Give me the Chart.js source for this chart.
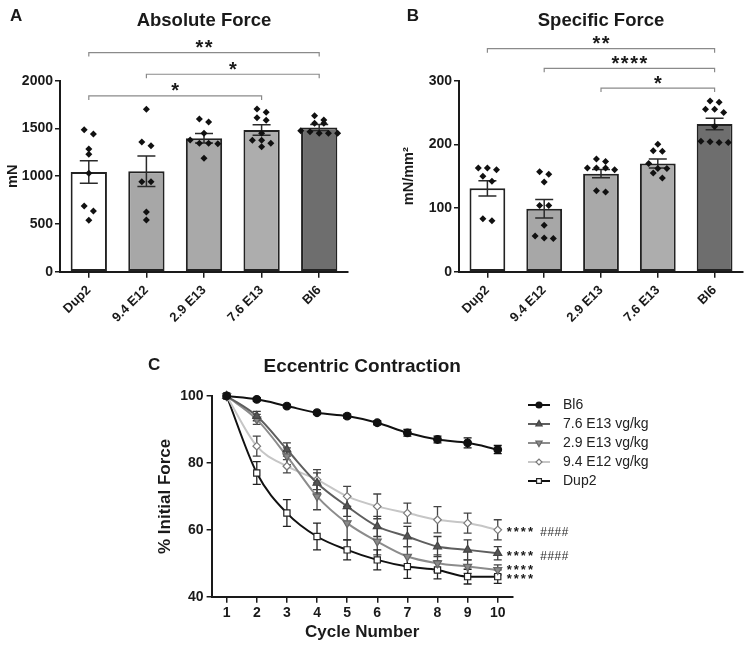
<!DOCTYPE html>
<html><head><meta charset="utf-8">
<script src="https://cdn.jsdelivr.net/npm/chart.js@4.4.1/dist/chart.umd.min.js"></script>
<style>
html,body{margin:0;padding:0;background:#fff;}
#wrap{position:relative;width:747px;height:645px;overflow:hidden;background:#fff;}
canvas{position:absolute;}
</style></head><body>
<div id="wrap">
<canvas id="cA" width="375" height="335" style="left:0;top:0"></canvas>
<canvas id="cB" width="372" height="335" style="left:375px;top:0"></canvas>
<canvas id="cC" width="607" height="315" style="left:140px;top:330px"></canvas>
</div>
<script>
// ---------- DATA ----------
const groups = ['Dup2', '9.4 E12', '2.9 E13', '7.6 E13', 'Bl6'];

const absMean = [1045, 1052, 1397, 1485, 1510];
const absSem = [118, 160, 50, 55, 32];
const absDots = [
  [1442, 1487, 1285, 1229, 1030, 688, 636, 538],
  [1700, 1319, 1358, 942, 942, 625, 541],
  [1599, 1568, 1449, 1379, 1344, 1344, 1340, 1187],
  [1704, 1669, 1613, 1585, 1449, 1309, 1376, 1344, 1376],
  [1634, 1588, 1554, 1554, 1449, 1476, 1449, 1466, 1449]
];
const absTicks = [0, 500, 1000, 1500, 2000];
const absSigFrom = [0, 1, 0];
const absSigTo = [3, 4, 4];
const absSigText = ['*', '*', '**'];

const specMean = [131, 99, 154, 170, 232];
const specSem = [12, 14.5, 6.5, 7, 9];
const specDots = [
  [163, 160, 163, 150, 142, 80, 83],
  [157, 153, 141, 104, 104, 73, 52, 56, 53],
  [177, 173, 163, 163, 163, 160, 125, 127],
  [200, 190, 189, 170, 162, 162, 147, 155],
  [268, 266, 255, 255, 250, 228, 203, 205, 203, 204]
];
const specTicks = [0, 100, 200, 300];
const specSigFrom = [2, 1, 0];
const specSigTo = [4, 4, 4];
const specSigText = ['*', '****', '**'];

const cycles = [1, 2, 3, 4, 5, 6, 7, 8, 9, 10];
const eccTicks = [40, 60, 80, 100];
const seriesNames = ['Bl6', '7.6 E13 vg/kg', '2.9 E13 vg/kg', '9.4 E12 vg/kg', 'Dup2'];
const bl6Vals   = [100, 99, 97, 95, 94, 92, 89, 87, 86, 84];
const bl6Err    = [0, 0.5, 0.5, 0.5, 0.6, 0.6, 1, 1, 1.5, 1.2];
const e76Vals   = [100, 94, 84, 74, 67, 61, 58, 55, 54, 53];
const e76Err    = [0, 1.4, 2, 3, 3, 3, 3, 3, 3, 2];
const e29Vals   = [100, 93, 82, 70, 62, 56.5, 52, 50, 49, 48];
const e29Err    = [0, 1.5, 2.5, 4, 5, 4, 3, 2.5, 2, 1.5];
const e94Vals   = [100, 85, 79, 75, 70, 67, 65, 63, 62, 60];
const e94Err    = [0, 3, 2, 3, 3, 3.7, 3, 3.9, 3, 3];
const dup2Vals  = [100, 77, 65, 58, 54, 51, 49, 48, 46, 46];
const dup2Err   = [0, 3.4, 4, 4, 3, 3, 3.5, 2.7, 2.2, 2];
const endStars  = ['', '****', '****', '****', '****'];
const endHash   = ['', '####', '', '####', ''];

// ---------- STYLE ----------
const FONT = '"Liberation Sans", Arial, Helvetica, sans-serif';
const INK = '#1a1a1a';
const barFill = ['#ffffff', '#a7a7a7', '#a9a9a9', '#adadad', '#6e6e6e'];

function spaced(ctx, text, x, y, spacing, align) {
  const chars = [...text];
  const w = chars.map(c => ctx.measureText(c).width);
  const total = w.reduce((a, b) => a + b, 0) + spacing * (chars.length - 1);
  let cx = align === 'center' ? x - total / 2 : x;
  ctx.textAlign = 'left';
  chars.forEach((c, i) => { ctx.fillText(c, cx, y); cx += w[i] + spacing; });
  return total;
}

// beeswarm layout of dots (computed from the values)
function swarm(values, idx, thr, step) {
  const sorted = values.slice().sort((a, b) => b - a);
  const rows = [];
  sorted.forEach(v => {
    const r = rows[rows.length - 1];
    if (r && r[0] - v <= thr) r.push(v); else rows.push([v]);
  });
  const pts = [];
  rows.forEach(r => r.forEach((v, k) => pts.push({ x: idx + (k - (r.length - 1) / 2) * step, y: v })));
  return pts;
}

function barChart(id, cfg) {
  const dots = [];
  cfg.dots.forEach((vals, i) => dots.push(...swarm(vals, i, cfg.thr, 0.16)));
  const deco = {
    id: 'deco' + id,
    afterDatasetDraw(chart, args) {
      if (args.meta.type !== 'bar') return;
      const ctx = chart.ctx, ys = chart.scales.y;
      ctx.save();
      ctx.strokeStyle = '#2a2a2a'; ctx.lineWidth = 1.5;
      args.meta.data.forEach((bar, i) => {
        const m = cfg.mean[i], s = cfg.sem[i];
        const yt = ys.getPixelForValue(m + s), yb = ys.getPixelForValue(m - s);
        ctx.beginPath();
        ctx.moveTo(bar.x, yt); ctx.lineTo(bar.x, yb);
        ctx.moveTo(bar.x - 9, yt); ctx.lineTo(bar.x + 9, yt);
        ctx.moveTo(bar.x - 9, yb); ctx.lineTo(bar.x + 9, yb);
        ctx.stroke();
      });
      ctx.restore();
    },
    afterDraw(chart) {
      const ctx = chart.ctx, xs = chart.scales.x, ys = chart.scales.y, ca = chart.chartArea;
      ctx.save();
      ctx.fillStyle = INK;
      ctx.font = 'bold 18.5px ' + FONT;
      ctx.textAlign = 'center'; ctx.textBaseline = 'alphabetic';
      ctx.fillText(cfg.title, (ca.left + ca.right) / 2, 25.5);
      ctx.font = 'bold 17px ' + FONT;
      ctx.textAlign = 'left';
      ctx.fillText(cfg.letter, cfg.letterX, 20.5);
      let maxV = -Infinity;
      cfg.dots.forEach(a => a.forEach(v => { if (v > maxV) maxV = v; }));
      const base = ys.getPixelForValue(maxV) - 13;
      cfg.sigFrom.forEach((f, k) => {
        const y = base - k * cfg.sigStep;
        const x1 = xs.getPixelForValue(f), x2 = xs.getPixelForValue(cfg.sigTo[k]);
        ctx.strokeStyle = '#8a8a8a'; ctx.lineWidth = 1.2;
        ctx.beginPath();
        ctx.moveTo(x1, y + 4); ctx.lineTo(x1, y); ctx.lineTo(x2, y); ctx.lineTo(x2, y + 4);
        ctx.stroke();
        ctx.fillStyle = INK;
        ctx.font = 'bold 20px ' + FONT;
        ctx.textBaseline = 'alphabetic';
        spaced(ctx, cfg.sigText[k], (x1 + x2) / 2, y + 1.5, 1.5, 'center');
      });
      ctx.restore();
    }
  };
  return new Chart(document.getElementById(id), {
    type: 'bar',
    data: {
      labels: groups,
      datasets: [
        { type: 'scatter', data: dots, xAxisID: 'xj', yAxisID: 'y', order: 1,
          pointStyle: 'rectRot', pointRadius: 3.5, pointBackgroundColor: '#111',
          pointBorderColor: '#111', pointBorderWidth: 0, clip: false },
        { type: 'bar', data: cfg.mean, xAxisID: 'x', yAxisID: 'y', order: 2, grouped: false,
          backgroundColor: barFill, borderColor: '#222', borderWidth: 2, borderSkipped: false,
          barPercentage: 0.63, categoryPercentage: 1 }
      ]
    },
    options: {
      responsive: false, animation: false, devicePixelRatio: 1,
      layout: { padding: { top: 80.7, right: cfg.padRight, left: cfg.padLeft, bottom: 0 } },
      plugins: { legend: { display: false }, tooltip: { enabled: false }, title: { display: false } },
      scales: {
        x: {
          type: 'category', offset: true,
          grid: { display: true, offset: false, drawOnChartArea: false, drawTicks: true, tickLength: 6, color: INK, lineWidth: 1.5 },
          border: { display: true, color: INK, width: 2 },
          ticks: { minRotation: 45, maxRotation: 45, autoSkip: false, padding: 5, color: INK,
                   font: { family: FONT, size: 13, weight: 'bold' } },
          afterFit(s) { s.height = 63.3; }
        },
        xj: { type: 'linear', display: false, offset: false, min: -0.5, max: 4.5 },
        y: {
          min: cfg.ticks[0], max: cfg.ticks[cfg.ticks.length - 1],
          afterBuildTicks(s) { s.ticks = cfg.ticks.map(v => ({ value: v })); },
          grid: { display: true, drawOnChartArea: false, drawTicks: true, tickLength: 5, color: INK, lineWidth: 1.5 },
          border: { display: true, color: INK, width: 2 },
          ticks: { padding: 2, color: INK, font: { family: FONT, size: 14, weight: 'bold' },
                   callback: v => String(v) },
          title: { display: true, text: cfg.yTitle, color: INK, padding: { top: 4, bottom: 0 },
                   font: { family: FONT, size: 14.5, weight: 'bold' } },
          afterFit(s) { s.width = cfg.yWidth; }
        }
      }
    },
    plugins: [deco]
  });
}

barChart('cA', {
  mean: absMean, sem: absSem, dots: absDots, ticks: absTicks, thr: 55,
  sigFrom: absSigFrom, sigTo: absSigTo, sigText: absSigText, sigStep: 21.7,
  title: 'Absolute Force', letter: 'A', letterX: 10, yTitle: 'mN',
  padLeft: 0, yWidth: 60, padRight: 27
});
barChart('cB', {
  mean: specMean, sem: specSem, dots: specDots, ticks: specTicks, thr: 8.2,
  sigFrom: specSigFrom, sigTo: specSigTo, sigText: specSigText, sigStep: 19.7,
  title: 'Specific Force', letter: 'B', letterX: 31.7, yTitle: 'mN/mm²',
  padLeft: 21, yWidth: 63, padRight: 0.3
});

// ---------- PANEL C ----------
const seriesVals = [bl6Vals, e76Vals, e29Vals, e94Vals, dup2Vals];
const seriesErr = [bl6Err, e76Err, e29Err, e94Err, dup2Err];
const seriesStyle = [
  { line: '#111111', fill: '#111111', border: '#111111', style: 'circle', rot: 0, r: 3.8, err: '#111111' },
  { line: '#5e5e5e', fill: '#555555', border: '#444444', style: 'triangle', rot: 0, r: 4.6, err: '#3a3a3a' },
  { line: '#8c8c8c', fill: '#8a8a8a', border: '#666666', style: 'triangle', rot: 180, r: 4.6, err: '#444444' },
  { line: '#c6c6c6', fill: '#ffffff', border: '#7a7a7a', style: 'rectRot', rot: 0, r: 3.8, err: '#444444' },
  { line: '#111111', fill: '#ffffff', border: '#222222', style: 'rect', rot: 0, r: 4.4, err: '#222222' }
];

const cErr = {
  id: 'cErr',
  beforeDatasetsDraw(chart) {
    const ctx = chart.ctx, ys = chart.scales.y;
    ctx.save();
    chart.data.datasets.forEach((ds, di) => {
      const meta = chart.getDatasetMeta(di);
      ctx.strokeStyle = seriesStyle[di].err; ctx.lineWidth = 1.3;
      meta.data.forEach((pt, i) => {
        const e = seriesErr[di][i]; if (!e) return;
        const v = seriesVals[di][i];
        const y1 = ys.getPixelForValue(v + e), y2 = ys.getPixelForValue(v - e);
        ctx.beginPath();
        ctx.moveTo(pt.x, y1); ctx.lineTo(pt.x, y2);
        ctx.moveTo(pt.x - 4, y1); ctx.lineTo(pt.x + 4, y1);
        ctx.moveTo(pt.x - 4, y2); ctx.lineTo(pt.x + 4, y2);
        ctx.stroke();
      });
    });
    ctx.restore();
  },
  afterDraw(chart) {
    const ctx = chart.ctx, ca = chart.chartArea;
    ctx.save();
    ctx.fillStyle = INK;
    ctx.font = 'bold 19px ' + FONT;
    ctx.textAlign = 'center'; ctx.textBaseline = 'alphabetic';
    ctx.fillText('Eccentric Contraction', (ca.left + ca.right) / 2, 41.7);
    ctx.font = 'bold 17px ' + FONT;
    ctx.textAlign = 'left';
    ctx.fillText('C', 8, 39.5);
    chart.data.datasets.forEach((ds, di) => {
      const st = seriesStyle[di];
      const y = 75 + di * 19;
      ctx.strokeStyle = st.line; ctx.lineWidth = 2;
      ctx.beginPath(); ctx.moveTo(388, y); ctx.lineTo(410, y); ctx.stroke();
      ctx.fillStyle = st.fill; ctx.strokeStyle = st.border; ctx.lineWidth = 1.2;
      Chart.helpers.drawPoint(ctx, { pointStyle: st.style, rotation: st.rot, radius: st.r * 0.78, borderWidth: 1.2 }, 399, y);
      ctx.fillStyle = '#222';
      ctx.font = '14px ' + FONT;
      ctx.textAlign = 'left'; ctx.textBaseline = 'middle';
      ctx.fillText(ds.label, 423, y);
    });
    const items = [];
    chart.data.datasets.forEach((ds, di) => {
      if (!endStars[di]) return;
      const meta = chart.getDatasetMeta(di);
      const last = meta.data[meta.data.length - 1];
      items.push({ di, x: last.x + 9, y: last.y });
    });
    items.sort((a, b) => b.y - a.y);
    for (let k = 1; k < items.length; k++) {
      if (items[k - 1].y - items[k].y < 9.4) items[k].y = items[k - 1].y - 9.4;
    }
    ctx.textBaseline = 'alphabetic';
    items.forEach(it => {
      ctx.fillStyle = INK;
      ctx.font = 'bold 13px ' + FONT;
      const w = spaced(ctx, endStars[it.di], it.x, it.y + 6.6, 2, 'left');
      if (endHash[it.di]) {
        ctx.fillStyle = '#2e2e2e';
        ctx.font = 'italic 12px ' + FONT;
        spaced(ctx, endHash[it.di], it.x + w + 7, it.y + 6.6, 0.5, 'left');
      }
    });
    ctx.restore();
  }
};

new Chart(document.getElementById('cC'), {
  type: 'line',
  data: {
    datasets: seriesNames.map((name, di) => ({
      label: name,
      data: cycles.map((c, i) => ({ x: c, y: seriesVals[di][i] })),
      borderColor: seriesStyle[di].line, borderWidth: 2,
      pointStyle: seriesStyle[di].style, pointRotation: seriesStyle[di].rot,
      pointRadius: seriesStyle[di].r, pointBackgroundColor: seriesStyle[di].fill,
      pointBorderColor: seriesStyle[di].border, pointBorderWidth: 1.2,
      cubicInterpolationMode: 'monotone', fill: false, clip: false
    }))
  },
  options: {
    responsive: false, animation: false, devicePixelRatio: 1,
    layout: { padding: { top: 66, left: 11, right: 234.2, bottom: 0 } },
    plugins: { legend: { display: false }, tooltip: { enabled: false } },
    scales: {
      x: {
        type: 'linear', min: 0.5, max: 10.5,
        afterBuildTicks(s) { s.ticks = cycles.map(v => ({ value: v })); },
        grid: { display: true, drawOnChartArea: false, drawTicks: true, tickLength: 6, color: INK, lineWidth: 1.5 },
        border: { display: true, color: INK, width: 2 },
        ticks: { padding: 2, color: INK, font: { family: FONT, size: 14, weight: 'bold' } },
        title: { display: true, text: 'Cycle Number', color: INK, padding: { top: 0, bottom: 2 },
                 font: { family: FONT, size: 17, weight: 'bold' } },
        afterFit(s) { s.height = 48.3; }
      },
      y: {
        min: 40, max: 100,
        afterBuildTicks(s) { s.ticks = eccTicks.map(v => ({ value: v })); },
        grid: { display: true, drawOnChartArea: false, drawTicks: true, tickLength: 5, color: INK, lineWidth: 1.5 },
        border: { display: true, color: INK, width: 2 },
        ticks: { padding: 3, color: INK, font: { family: FONT, size: 14, weight: 'bold' } },
        title: { display: true, text: '% Initial Force', color: INK, padding: { top: 4, bottom: 0 },
                 font: { family: FONT, size: 17, weight: 'bold' } },
        afterFit(s) { s.width = 60.6; }
      }
    }
  },
  plugins: [cErr]
});
</script>
</body></html>
